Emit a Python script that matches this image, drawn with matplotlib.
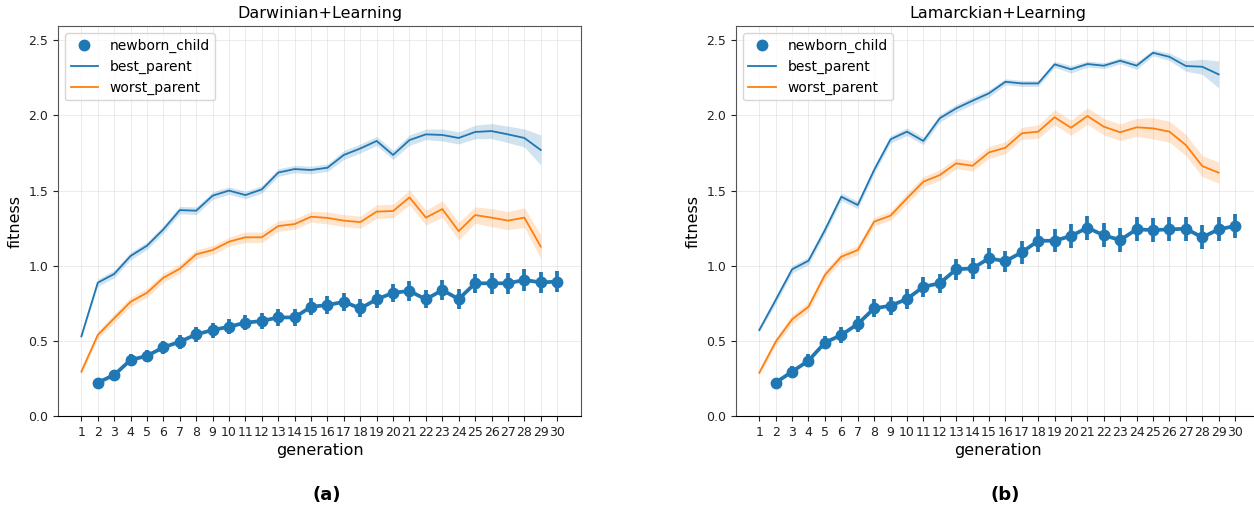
import matplotlib
matplotlib.use("Agg")
import matplotlib.pyplot as plt
from matplotlib.lines import Line2D
import numpy as np

generations = list(range(1, 31))
gen_parents = generations[:29]   # parents drawn for gen 1..29
gen_child = generations[1:]      # children drawn for gen 2..30

# Darwinian+Learning
d_best = [0.53, 0.887, 0.945, 1.065, 1.133, 1.242, 1.37, 1.366, 1.466, 1.50,
          1.47, 1.508, 1.62, 1.643, 1.637, 1.652, 1.737, 1.78, 1.83, 1.737,
          1.836, 1.874, 1.87, 1.85, 1.89, 1.896, 1.874, 1.85, 1.77]
d_best_ci = [0.012, 0.025, 0.025, 0.025, 0.025, 0.025, 0.025, 0.025, 0.025, 0.025,
             0.025, 0.025, 0.025, 0.025, 0.025, 0.025, 0.03, 0.03, 0.03, 0.03,
             0.035, 0.035, 0.04, 0.04, 0.045, 0.05, 0.055, 0.06, 0.1]
d_worst = [0.295, 0.539, 0.65, 0.76, 0.82, 0.92, 0.98, 1.076, 1.104, 1.16,
           1.189, 1.189, 1.264, 1.277, 1.326, 1.318, 1.30, 1.29, 1.36, 1.364,
           1.455, 1.32, 1.377, 1.23, 1.337, 1.32, 1.30, 1.32, 1.127]
d_worst_ci = [0.015, 0.025, 0.03, 0.03, 0.03, 0.03, 0.03, 0.03, 0.03, 0.03,
              0.035, 0.035, 0.035, 0.035, 0.035, 0.04, 0.04, 0.04, 0.045, 0.045,
              0.05, 0.05, 0.055, 0.06, 0.055, 0.06, 0.06, 0.065, 0.08]
d_child = [0.222, 0.273, 0.373, 0.40, 0.457, 0.494, 0.543, 0.572, 0.594, 0.621,
           0.632, 0.656, 0.656, 0.727, 0.738, 0.76, 0.716, 0.776, 0.82, 0.832,
           0.776, 0.838, 0.778, 0.883, 0.883, 0.883, 0.905, 0.889, 0.894]
d_child_err = [0.025, 0.035, 0.04, 0.04, 0.045, 0.045, 0.05, 0.05, 0.05, 0.05,
               0.055, 0.055, 0.055, 0.055, 0.06, 0.06, 0.06, 0.06, 0.06, 0.065,
               0.06, 0.065, 0.065, 0.065, 0.07, 0.07, 0.07, 0.07, 0.07]

# Lamarckian+Learning
l_best = [0.572, 0.772, 0.976, 1.033, 1.237, 1.459, 1.404, 1.637, 1.841, 1.892,
          1.83, 1.981, 2.047, 2.098, 2.147, 2.224, 2.213, 2.213, 2.34, 2.307,
          2.342, 2.331, 2.364, 2.331, 2.417, 2.39, 2.329, 2.324, 2.273]
l_best_ci = [0.015, 0.025, 0.025, 0.025, 0.025, 0.025, 0.025, 0.025, 0.025, 0.025,
             0.025, 0.025, 0.025, 0.025, 0.025, 0.02, 0.02, 0.02, 0.02, 0.025,
             0.02, 0.02, 0.02, 0.025, 0.02, 0.025, 0.035, 0.05, 0.09]
l_worst = [0.288, 0.494, 0.643, 0.727, 0.938, 1.06, 1.104, 1.293, 1.333, 1.448,
           1.559, 1.603, 1.681, 1.665, 1.754, 1.785, 1.881, 1.892, 1.988, 1.918,
           1.996, 1.925, 1.888, 1.921, 1.914, 1.892, 1.803, 1.663, 1.619]
l_worst_ci = [0.015, 0.025, 0.03, 0.03, 0.03, 0.03, 0.03, 0.03, 0.03, 0.035,
              0.035, 0.035, 0.035, 0.035, 0.04, 0.04, 0.04, 0.045, 0.05, 0.05,
              0.055, 0.055, 0.055, 0.06, 0.07, 0.07, 0.07, 0.07, 0.07]
l_child = [0.222, 0.295, 0.368, 0.488, 0.539, 0.612, 0.716, 0.734, 0.778, 0.86,
           0.883, 0.976, 0.982, 1.049, 1.03, 1.089, 1.166, 1.166, 1.198, 1.253,
           1.202, 1.171, 1.242, 1.237, 1.242, 1.246, 1.189, 1.242, 1.264]
l_child_err = [0.025, 0.035, 0.045, 0.045, 0.05, 0.055, 0.06, 0.06, 0.065, 0.065,
               0.065, 0.07, 0.07, 0.07, 0.07, 0.075, 0.075, 0.075, 0.08, 0.08,
               0.08, 0.08, 0.08, 0.08, 0.08, 0.08, 0.08, 0.08, 0.08]

panels = [
    ("Darwinian+Learning", "(a)", d_best, d_best_ci, d_worst, d_worst_ci, d_child, d_child_err),
    ("Lamarckian+Learning", "(b)", l_best, l_best_ci, l_worst, l_worst_ci, l_child, l_child_err),
]

BLUE = "#1f77b4"
ORANGE = "#ff7f0e"

fig = plt.figure(figsize=(12.54, 5.12), dpi=100)
rects = [[0.0463, 0.1875, 0.4171, 0.7617], [0.5869, 0.1875, 0.4171, 0.7617]]

for rect, (title, tag, best, best_ci, worst, worst_ci, child, child_err) in zip(rects, panels):
    ax = fig.add_axes(rect)
    best = np.array(best)
    worst = np.array(worst)
    best_ci = np.array(best_ci)
    worst_ci = np.array(worst_ci)

    ax.fill_between(gen_parents, best - best_ci, best + best_ci, color=BLUE, alpha=0.2, lw=0)
    ax.plot(gen_parents, best, color=BLUE, lw=1.3)
    ax.fill_between(gen_parents, worst - worst_ci, worst + worst_ci, color=ORANGE, alpha=0.2, lw=0)
    ax.plot(gen_parents, worst, color=ORANGE, lw=1.3)
    ax.errorbar(gen_child, child, yerr=child_err, color=BLUE, marker="o", ms=7.5,
                lw=2.7, elinewidth=2.7, capsize=0, zorder=3)

    ax.set_xlim(-0.42, 31.46)
    ax.set_ylim(0, 2.595)
    ax.set_xticks(generations)
    ax.set_yticks([0.0, 0.5, 1.0, 1.5, 2.0, 2.5])
    ax.tick_params(labelsize=9, colors="#222222")
    ax.grid(True, color="#dddddd", lw=0.7, alpha=0.6)
    ax.set_axisbelow(True)
    for side in ["top", "right", "left"]:
        ax.spines[side].set_color("#555555")
    ax.set_title(title, fontsize=11.5)
    ax.set_xlabel("generation", fontsize=11.5, labelpad=3)
    ax.set_ylabel("fitness", fontsize=11.5)

    handles = [
        Line2D([], [], color=BLUE, marker="o", ls="none", ms=7.5),
        Line2D([], [], color=BLUE, lw=1.3),
        Line2D([], [], color=ORANGE, lw=1.3),
    ]
    ax.legend(handles, ["newborn_child", "best_parent", "worst_parent"],
              loc="upper left", fontsize=10, framealpha=0.8)

    fig.text(rect[0] + rect[2] / 2 + 0.006, 0.033, tag, ha="center", va="center",
             fontsize=13, fontweight="bold")

plt.savefig("out.png", dpi=100)
plt.close()
